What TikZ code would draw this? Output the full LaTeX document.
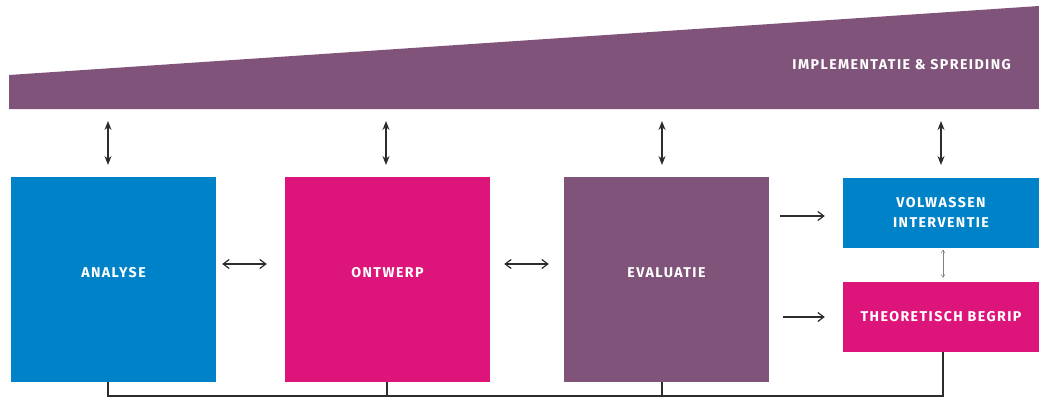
\documentclass[tikz,border=0pt]{standalone}
\usepackage{fontspec}
\setmainfont{Fira Sans}
\newfontfamily\stagefont[LetterSpace=10]{Fira Sans}
\usetikzlibrary{calc,arrows.meta}

\definecolor{stageblue}{RGB}{0,130,200}
\definecolor{stagepink}{RGB}{221,20,122}
\definecolor{stagepurple}{RGB}{127,83,122}
\definecolor{linkgrey}{RGB}{45,45,45}

\begin{document}
\begin{tikzpicture}[x=1pt, y=-1pt,
        stage/.style={fill=#1, text=white, inner sep=0pt, align=center,
            font=\stagefont\bfseries\fontsize{14.2}{20}\selectfont},
        bigstage/.style={stage=#1, minimum width=205pt, minimum height=205pt,
            text height=10pt, text depth=15pt},
        result/.style={stage=#1, minimum width=196pt, minimum height=70pt},
        link/.style={draw=linkgrey, line width=1.2pt, {Straight Barb[length=6pt,width=9pt]}-{Straight Barb[length=6pt,width=9pt]}},
        uplink/.style={draw=linkgrey, line width=1.3pt, {Stealth[length=9pt,width=7pt]}-{Stealth[length=9pt,width=7pt]}},
        bus/.style={draw=linkgrey, line width=1.6pt}]

        \useasboundingbox (0,0) rectangle (1039,399);

        % banner
        \fill [stagepurple] (9,109) -- (9,75) -- (1039,6) -- (1039,109) -- cycle;
        \node [stage=none, anchor=east] (spreiding) at (1011,65) {IMPLEMENTATIE \& SPREIDING};

        % stages
        \node [bigstage=stageblue] (analyse) at (113.5,279.5) {ANALYSE};
        \node [bigstage=stagepink] (ontwerp) at (387.5,279.5) {ONTWERP};
        \node [bigstage=stagepurple] (evaluatie) at (666.5,279.5) {EVALUATIE};

        \node [result=stageblue] (volwassen) at (941,212.5) {VOLWASSEN\\INTERVENTIE};
        \node [result=stagepink] (begrip) at (941,317) {THEORETISCH BEGRIP};

        % links to the banner
        \foreach \xx/\name in {108/analyse, 386/ontwerp, 662/evaluatie, 941/volwassen} {
            \coordinate (top-\name) at (\xx,121);
            \coordinate (bot-\name) at (\xx,165);
            \draw [uplink] (top-\name) -- (bot-\name);
        }

        \draw [link] ([xshift=6pt,yshift=15.5pt]analyse.east) -- ([xshift=-18pt,yshift=15.5pt]ontwerp.west);
        \draw [link] ([xshift=14pt,yshift=15.5pt]ontwerp.east) -- ([xshift=-15pt,yshift=15.5pt]evaluatie.west);

        \draw [link, {-Straight Barb[length=6pt,width=9pt]}] ($(evaluatie.east |- volwassen.west)+(11,3.5)$) -- ($(volwassen.west)+(-18,3.5)$);
        \draw [link, {-Straight Barb[length=6pt,width=9pt]}] ($(evaluatie.east |- begrip.west)+(14,0)$) -- ($(begrip.west)+(-18,0)$);

        \draw [link, draw=gray, line width=0.5pt, {Straight Barb[length=3pt,width=4pt]}-{Straight Barb[length=3pt,width=4pt]}]
            ($(volwassen.south)+(2,2)$) -- ($(begrip.north)+(2,-4)$);

        % feedback line
        \draw [bus] ([xshift=-5.5pt]analyse.south) -- ++(0,14) -| ([xshift=2pt]begrip.south);
        \draw [bus] ([xshift=-0.5pt]ontwerp.south) -- ++(0,14);
        \draw [bus] ([xshift=-4.5pt]evaluatie.south) -- ++(0,14);

    \end{tikzpicture}
\end{document}
